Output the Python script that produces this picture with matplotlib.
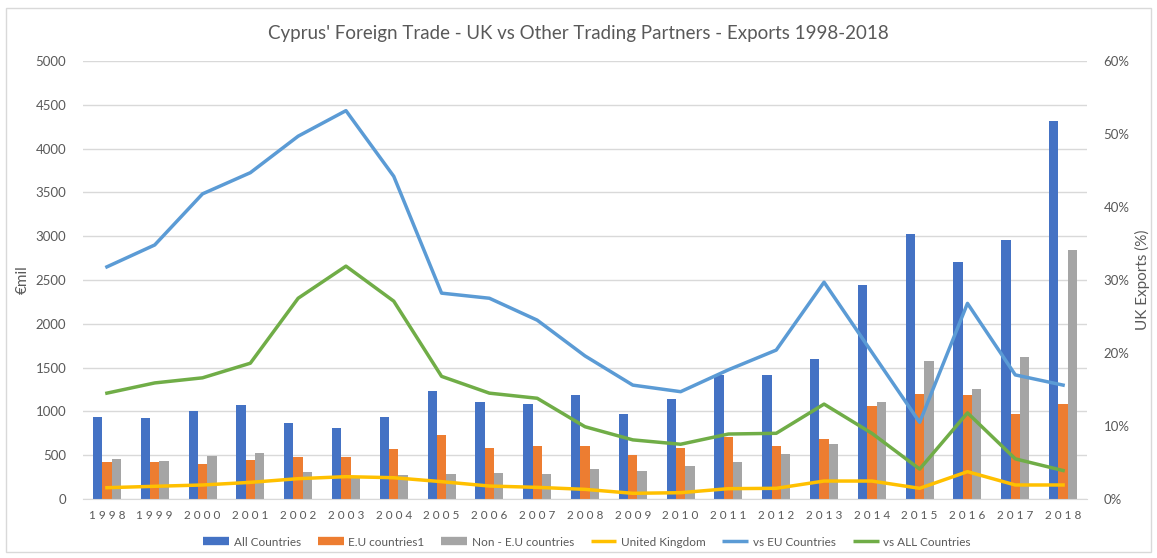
import matplotlib
matplotlib.use("Agg")
import matplotlib.pyplot as plt
import numpy as np
from matplotlib.patches import Rectangle
from matplotlib.lines import Line2D

years = [str(y) for y in range(1998, 2019)]
all_countries = [940, 920, 1010, 1070, 870, 810, 940, 1230, 1110, 1080, 1190, 970, 1140, 1420, 1410, 1600, 2440, 3020, 2710, 2960, 4310]
eu_countries = [420, 425, 400, 450, 475, 480, 570, 730, 580, 600, 600, 500, 580, 710, 610, 690, 1065, 1195, 1190, 975, 1085]
non_eu_countries = [460, 430, 490, 520, 310, 260, 270, 290, 300, 290, 340, 320, 380, 420, 515, 632, 1105, 1580, 1255, 1625, 2840]
united_kingdom = [129, 145, 160, 190, 232, 255, 243, 198, 148, 133, 110, 65, 72, 118, 122, 205, 205, 122, 312, 160, 160]
vs_eu = [31.8, 34.8, 41.8, 44.7, 49.7, 53.2, 44.2, 28.2, 27.5, 24.5, 19.6, 15.6, 14.7, 17.7, 20.4, 29.7, 20.1, 10.5, 26.8, 17.0, 15.6]
vs_all = [14.5, 15.9, 16.6, 18.6, 27.5, 31.9, 27.1, 16.8, 14.5, 13.8, 9.9, 8.1, 7.5, 8.9, 9.0, 13.0, 9.0, 4.1, 11.8, 5.5, 3.9]
legend_labels = ["All Countries", "E.U countries1", "Non - E.U countries", "United Kingdom", "vs EU Countries", "vs ALL Countries"]

TXT = "#595959"
plt.rcParams['font.family'] = ['Lato', 'DejaVu Sans']

fig = plt.figure(figsize=(11.57, 5.58), dpi=100)
fig.patches.append(Rectangle((6/1157, 1-552/558), 1145/1157, 544/558, transform=fig.transFigure,
                             fill=False, edgecolor="#D9D9D9", lw=1))
ax = fig.add_axes([83/1157, 1-499/558, 1004/1157, 438/558])
x = np.arange(len(years))
w = 0.195
ax.bar(x - w, all_countries, w, color="#4472C4", zorder=2)
ax.bar(x, eu_countries, w, color="#ED7D31", zorder=2)
ax.bar(x + w, non_eu_countries, w, color="#A5A5A5", zorder=2)
ax.plot(x, united_kingdom, color="#FFC000", lw=2.5, zorder=3)
ax.set_ylim(0, 5000)
ax.set_xlim(-0.5, len(years) - 0.5)
ax.set_yticks(np.arange(0, 5001, 500))
ax.grid(axis="y", color="#D9D9D9", lw=1, zorder=0)
ax.set_axisbelow(True)
ax.set_xticks(x)
ax.set_xticklabels([" ".join(y) for y in years], fontsize=8.5, color=TXT)
ax.tick_params(axis="y", labelsize=9.5, labelcolor=TXT, length=0, pad=12)
ax.tick_params(axis="x", length=0, pad=8)
for s in ["top", "right", "left"]:
    ax.spines[s].set_visible(False)
ax.spines["bottom"].set_color("#D9D9D9")
ax.set_ylabel("€mil", fontsize=11, color=TXT, labelpad=4)

ax2 = ax.twinx()
ax2.plot(x, vs_eu, color="#5B9BD5", lw=2.5, zorder=3)
ax2.plot(x, vs_all, color="#70AD47", lw=2.5, zorder=3)
ax2.set_ylim(0, 60)
ax2.set_yticks(np.arange(0, 61, 10))
ax2.set_yticklabels([f"{v}%" for v in range(0, 61, 10)])
ax2.tick_params(axis="y", labelsize=9.5, labelcolor=TXT, length=0, pad=12)
for s in ["top", "right", "left", "bottom"]:
    ax2.spines[s].set_visible(False)
ax2.set_ylabel("UK Exports (%)", fontsize=11, color=TXT, labelpad=4)

fig.suptitle("Cyprus' Foreign Trade - UK vs Other Trading Partners - Exports 1998-2018",
             y=1-33/558, va="center", fontsize=13.5, color=TXT)

handles = [Line2D([], [], color=c, lw=lw, solid_capstyle="butt") for c, lw in
           [("#4472C4", 6), ("#ED7D31", 6), ("#A5A5A5", 6), ("#FFC000", 2.5), ("#5B9BD5", 2.5), ("#70AD47", 2.5)]]
fig.legend(handles, legend_labels, loc="center", bbox_to_anchor=(587/1157, 1-542/558), ncol=6, frameon=False,
           fontsize=8.5, labelcolor=TXT, handlelength=2.2, handletextpad=0.4, columnspacing=1.4)

fig.savefig("out.png", dpi=100)
